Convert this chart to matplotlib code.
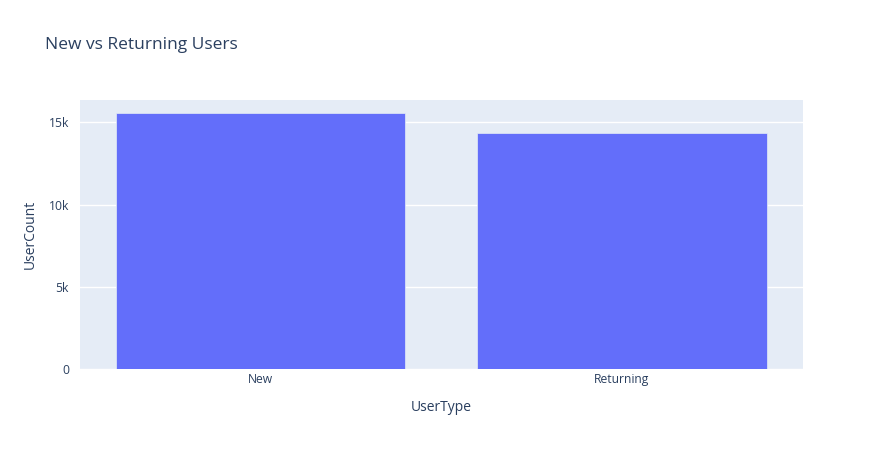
import matplotlib
matplotlib.use("Agg")
import matplotlib.pyplot as plt
from matplotlib.ticker import FuncFormatter

user_types = ["New", "Returning"]
user_counts = [15540, 14375]

TXT = "#2a3f5f"
plt.rcParams.update({"font.family": ["Open Sans", "DejaVu Sans"]})

fig = plt.figure(figsize=(8.82, 4.5), dpi=100)
ax = fig.add_axes([80 / 882, (450 - 369.3) / 450, 722.7 / 882, 269.3 / 450])
ax.set_facecolor("#E5ECF6")

x = range(len(user_types))
ax.bar(x, user_counts, width=0.8, color="#636efa", edgecolor="#E5ECF6", linewidth=0.5, zorder=3)

ax.set_xlim(-0.5, len(user_types) - 0.5)
ax.set_ylim(0, 16360)
ax.set_yticks([0, 5000, 10000, 15000])
ax.yaxis.set_major_formatter(FuncFormatter(lambda v, p: "0" if v == 0 else f"{v/1000:.0f}k"))
ax.set_xticks(list(x))
ax.set_xticklabels(user_types)
ax.grid(axis="y", color="white", linewidth=1, zorder=1)
ax.set_axisbelow(True)
for s in ax.spines.values():
    s.set_visible(False)
ax.tick_params(length=0, labelsize=8.7, colors=TXT)
ax.tick_params(axis="x", pad=3)
ax.tick_params(axis="y", pad=8)

ax.set_xlabel("UserType", fontsize=10, color=TXT, labelpad=10)
ax.set_ylabel("UserCount", fontsize=10, color=TXT, labelpad=8)
fig.text(45 / 882, 1 - 45 / 450, "New vs Returning Users", fontsize=12.5, color=TXT, va="center", ha="left")

fig.savefig("out.png", dpi=100)
